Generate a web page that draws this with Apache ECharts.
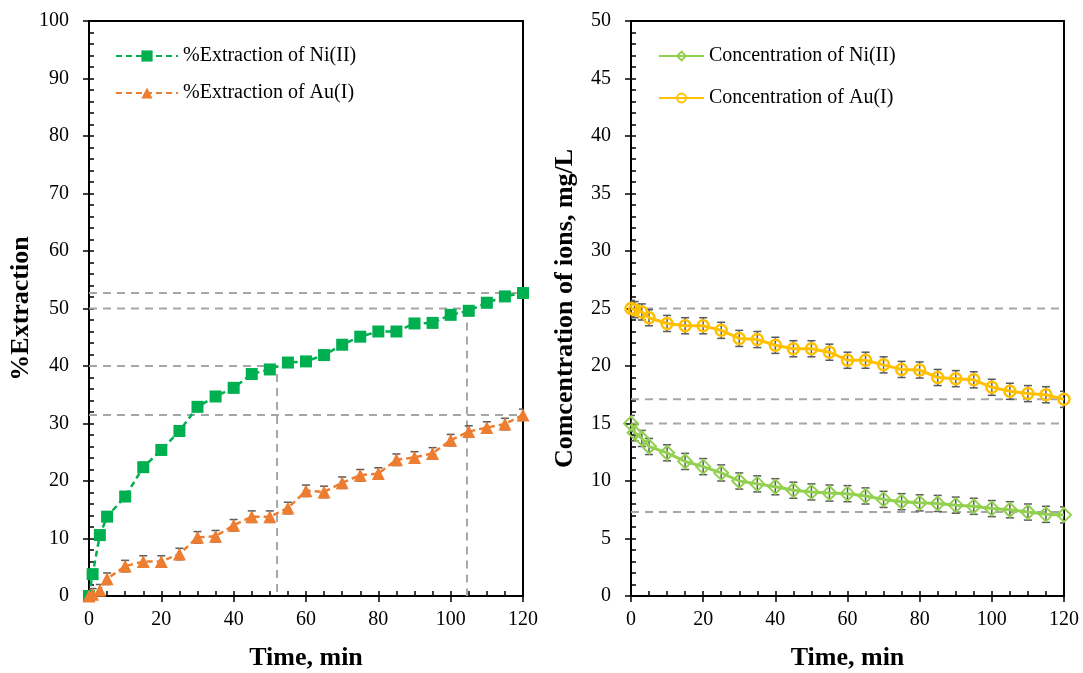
<!DOCTYPE html>
<html>
<head>
<meta charset="utf-8">
<script src="https://cdn.jsdelivr.net/npm/echarts@6/dist/echarts.min.js"></script>
<style>
html,body{margin:0;padding:0;background:#fff;}
#chart{width:1083px;height:673px;}
</style>
</head>
<body>
<div id="chart"></div>
<script>
// ---- data ----
const timeMin = [0, 1, 3, 5, 10, 15, 20, 25, 30, 35, 40, 45, 50, 55, 60, 65, 70, 75, 80, 85, 90, 95, 100, 105, 110, 115, 120];
const extNi = [0, 3.8, 10.6, 13.8, 17.3, 22.4, 25.4, 28.7, 32.9, 34.7, 36.2, 38.6, 39.4, 40.6, 40.8, 41.9, 43.7, 45.1, 46.0, 46.0, 47.4, 47.5, 48.9, 49.6, 51.0, 52.1, 52.7];
const extAu = [0, 0.3, 1.0, 3.0, 5.2, 6.0, 6.0, 7.3, 10.2, 10.4, 12.3, 13.8, 13.8, 15.3, 18.3, 18.1, 19.7, 21.0, 21.3, 23.7, 24.1, 24.8, 27.1, 28.6, 29.3, 29.9, 31.5];
const concNi = [15.0, 14.2, 13.7, 13.0, 12.45, 11.7, 11.25, 10.7, 10.0, 9.75, 9.5, 9.2, 9.05, 8.95, 8.9, 8.7, 8.4, 8.2, 8.1, 8.05, 7.9, 7.8, 7.6, 7.5, 7.3, 7.1, 7.05];
const concAu = [25.0, 24.9, 24.7, 24.2, 23.7, 23.5, 23.5, 23.1, 22.4, 22.3, 21.8, 21.5, 21.5, 21.2, 20.5, 20.5, 20.1, 19.7, 19.65, 19.0, 18.9, 18.8, 18.15, 17.8, 17.6, 17.5, 17.1];
const errExtNi = [0.8, 0.8, 0.8, 0.8, 0.8, 0.8, 0.8, 0.8, 0.8, 0.8, 0.8, 0.8, 0.8, 0.8, 0.8, 0.8, 0.8, 0.8, 0.8, 0.8, 0.8, 0.8, 0.8, 0.8, 0.8, 0.8, 0.8];
const errExtAu = [1.0, 1.0, 1.0, 1.0, 1.0, 1.0, 1.0, 1.0, 1.0, 1.0, 1.0, 1.0, 1.0, 1.0, 1.0, 1.0, 1.0, 1.0, 1.0, 1.0, 1.0, 1.0, 1.0, 1.0, 1.0, 1.0, 1.0];
const errConcNi = [0.7, 0.7, 0.7, 0.7, 0.7, 0.7, 0.7, 0.7, 0.7, 0.7, 0.7, 0.7, 0.7, 0.7, 0.7, 0.7, 0.7, 0.7, 0.7, 0.7, 0.7, 0.7, 0.7, 0.7, 0.7, 0.7, 0.7];
const errConcAu = [0.7, 0.7, 0.7, 0.7, 0.7, 0.7, 0.7, 0.7, 0.7, 0.7, 0.7, 0.7, 0.7, 0.7, 0.7, 0.7, 0.7, 0.7, 0.7, 0.7, 0.7, 0.7, 0.7, 0.7, 0.7, 0.7, 0.7];
// dashed guide lines (time, value)
const guideLeft = [
  [[0, 52.7], [120, 52.7]],
  [[0, 50], [104.5, 50], [104.5, 0]],
  [[0, 40], [52, 40], [52, 0]],
  [[0, 31.5], [120, 31.5]]
];
const guideRight = [
  [[0, 25], [120, 25]],
  [[0, 17.1], [120, 17.1]],
  [[0, 15], [120, 15]],
  [[0, 7.3], [120, 7.3]]
];
const nameExtNi = '%Extraction of Ni(II)';
const nameExtAu = '%Extraction of Au(I)';
const nameConcNi = 'Concentration of Ni(II)';
const nameConcAu = 'Concentration of Au(I)';

// ---- chart ----
const FONT = 'Liberation Serif';
const chart = echarts.init(document.getElementById('chart'), null, {renderer: 'canvas'});

function pairs(vals) { return timeMin.map((t, i) => [t, vals[i]]); }

function errSeries(vals, errs, gi) {
  return {
    type: 'custom', xAxisIndex: gi * 2, yAxisIndex: gi * 2, z: 3, silent: true, clip: true,
    data: timeMin.map((t, i) => [t, vals[i] - errs[i], vals[i] + errs[i]]),
    encode: {x: 0, y: [1, 2]},
    renderItem: function (params, api) {
      const x = api.value(0);
      const lo = api.coord([x, api.value(1)]);
      const hi = api.coord([x, api.value(2)]);
      const w = 4;
      const st = {stroke: '#595959', lineWidth: 1.5};
      return {type: 'group', children: [
        {type: 'line', shape: {x1: lo[0], y1: lo[1], x2: hi[0], y2: hi[1]}, style: st},
        {type: 'line', shape: {x1: lo[0] - w, y1: lo[1], x2: lo[0] + w, y2: lo[1]}, style: st},
        {type: 'line', shape: {x1: hi[0] - w, y1: hi[1], x2: hi[0] + w, y2: hi[1]}, style: st}
      ]};
    }
  };
}

function guideSeries(segs, gi) {
  return segs.map(seg => ({
    type: 'line', xAxisIndex: gi * 2, yAxisIndex: gi * 2, z: 1, silent: true,
    symbol: 'none', data: seg,
    lineStyle: {color: '#A6A6A6', width: 2, type: [8, 6]}
  }));
}

function xAxes(gi) {
  return [
    {gridIndex: gi, type: 'value', min: 0, max: 120, interval: 20,
     name: 'Time, min', nameLocation: 'middle', nameGap: 49,
     nameTextStyle: {fontFamily: FONT, fontWeight: 'bold', fontSize: 26, color: '#000'},
     axisLine: {onZero: false, lineStyle: {color: '#000', width: 2}},
     axisTick: {inside: false, length: 6, lineStyle: {color: '#000', width: 1.5}},
     axisLabel: {margin: 14, fontFamily: FONT, fontSize: 20, color: '#000'},
     splitLine: {show: false}},
    {gridIndex: gi, type: 'value', min: 0, max: 120, interval: 5, position: 'bottom',
     axisLine: {show: false}, axisLabel: {show: false}, splitLine: {show: false},
     axisTick: {inside: true, length: 5, lineStyle: {color: '#000', width: 1.5}}}
  ];
}

function yAxes(gi, max, interval, minor, name, gap) {
  return [
    {gridIndex: gi, type: 'value', min: 0, max: max, interval: interval,
     name: name, nameLocation: 'middle', nameGap: gap,
     nameTextStyle: {fontFamily: FONT, fontWeight: 'bold', fontSize: 26, color: '#000'},
     axisLine: {show: true, onZero: false, lineStyle: {color: '#000', width: 2}},
     axisTick: {show: true, inside: false, length: 6, lineStyle: {color: '#000', width: 1.5}},
     axisLabel: {margin: 20, fontFamily: FONT, fontSize: 20, color: '#000'},
     splitLine: {show: false}},
    {gridIndex: gi, type: 'value', min: 0, max: max, interval: minor, position: 'left',
     axisLine: {show: false}, axisLabel: {show: false}, splitLine: {show: false},
     axisTick: {show: true, inside: true, length: 5, lineStyle: {color: '#000', width: 1.5}}}
  ];
}

const option = {
  animation: false,
  backgroundColor: '#fff',
  grid: [
    {left: 89, top: 21, width: 434, height: 575, outerBoundsMode: 'none', containLabel: false,
     show: true, borderColor: '#000', borderWidth: 2, backgroundColor: 'transparent'},
    {left: 631, top: 21, width: 433, height: 575, outerBoundsMode: 'none', containLabel: false,
     show: true, borderColor: '#000', borderWidth: 2, backgroundColor: 'transparent'}
  ],
  legend: [
    {data: [nameExtNi, nameExtAu], orient: 'vertical', left: 110, top: 41,
     itemWidth: 62, itemHeight: 14, itemGap: 17,
     textStyle: {fontFamily: FONT, fontSize: 20, color: '#000'}},
    {data: [nameConcNi, nameConcAu], orient: 'vertical', left: 653, top: 41,
     itemWidth: 45, itemHeight: 11, itemGap: 22,
     textStyle: {fontFamily: FONT, fontSize: 20, color: '#000'}}
  ],
  xAxis: [].concat(xAxes(0), xAxes(1)),
  yAxis: [].concat(yAxes(0, 100, 10, 2, '%Extraction', 55), yAxes(1, 50, 5, 1, 'Comcentration of ions, mg/L', 53)),
  series: [].concat(
    guideSeries(guideLeft, 0),
    guideSeries(guideRight, 1),
    [
      errSeries(extNi, errExtNi, 0),
      errSeries(extAu, errExtAu, 0),
      errSeries(concNi, errConcNi, 1),
      errSeries(concAu, errConcAu, 1),
      {name: nameExtNi, type: 'line', xAxisIndex: 0, yAxisIndex: 0, z: 5,
       data: pairs(extNi), symbol: 'rect', symbolSize: 12,
       itemStyle: {color: '#00B050'},
       lineStyle: {color: '#00B050', width: 2.5, type: [6, 4]}},
      {name: nameExtAu, type: 'line', xAxisIndex: 0, yAxisIndex: 0, z: 5,
       data: pairs(extAu), symbol: 'triangle', symbolSize: 13,
       itemStyle: {color: '#ED7D31'},
       lineStyle: {color: '#ED7D31', width: 2.5, type: [6, 4]}},
      {name: nameConcNi, type: 'line', xAxisIndex: 2, yAxisIndex: 2, z: 5,
       data: pairs(concNi), symbol: 'diamond', symbolSize: 14,
       itemStyle: {color: 'rgba(255,255,255,0)', borderColor: '#92D050', borderWidth: 2},
       lineStyle: {color: '#92D050', width: 3}},
      {name: nameConcAu, type: 'line', xAxisIndex: 2, yAxisIndex: 2, z: 5,
       data: pairs(concAu), symbol: 'circle', symbolSize: 11,
       itemStyle: {color: 'rgba(255,255,255,0)', borderColor: '#FFC000', borderWidth: 2.5},
       lineStyle: {color: '#FFC000', width: 3}}
    ]
  )
};
chart.setOption(option);
</script>
</body>
</html>
